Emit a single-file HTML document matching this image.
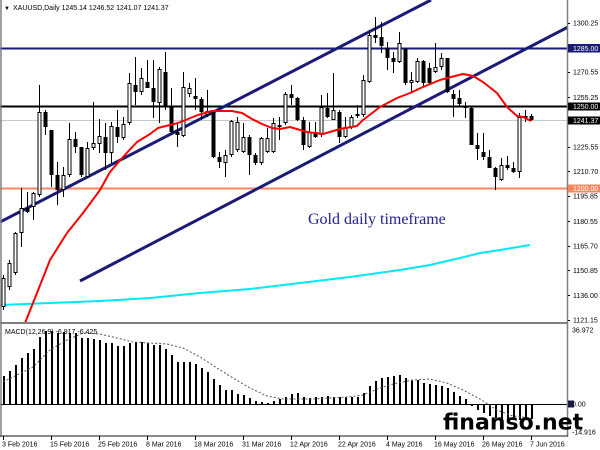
<!DOCTYPE html>
<html>
<head>
<meta charset="utf-8">
<style>
html,body{margin:0;padding:0;background:#fff;}
svg{display:block;}
text{font-family:"Liberation Sans",Arial,sans-serif;}
</style>
</head>
<body>
<svg width="600" height="450" viewBox="0 0 600 450" xmlns="http://www.w3.org/2000/svg">
<defs>
<clipPath id="cm"><rect x="0" y="0" width="567" height="322"/></clipPath>
<clipPath id="cd"><rect x="0" y="324" width="567" height="112"/></clipPath>
</defs>
<rect x="0" y="0" width="600" height="450" fill="#fff"/>

<g clip-path="url(#cm)">
<!-- horizontal levels -->
<line x1="0" y1="48.5" x2="568" y2="48.5" stroke="#1a1a78" stroke-width="2"/>
<line x1="0" y1="106.5" x2="568" y2="106.5" stroke="#000" stroke-width="2"/>
<line x1="0" y1="120.5" x2="568" y2="120.5" stroke="#c8c8c8" stroke-width="1"/>
<line x1="0" y1="188.5" x2="568" y2="188.5" stroke="#f7875f" stroke-width="2"/>

<!-- cyan MA -->
<polyline fill="none" stroke="#00e8f8" stroke-width="2" points="0,305 50,303 100,301 150,298 200,293 250,289 300,283 350,277 400,270 430,265 460,258 480,253 500,250 530,245"/>

<!-- channel lines -->
<line x1="0" y1="222" x2="431" y2="0" stroke="#1a1a78" stroke-width="3"/>
<line x1="80" y1="281" x2="568" y2="27" stroke="#1a1a78" stroke-width="3"/>

<!-- wicks -->
<path fill="none" stroke="#000" stroke-width="1" d="M3.5 275V310 M9.5 260V290 M15.5 232V275 M21.5 188V247 M27.5 192V213 M33.5 192V220 M39.5 85V197 M45.5 110V135 M51.5 130V187 M57.5 162V205 M63.5 167V197 M69.5 123V177 M75.5 132V153 M81.5 147V177 M87.5 142V178 M93.5 102V150 M99.5 119V153 M105.5 123V170 M111.5 122V163 M117.5 110V143 M123.5 117V140 M129.5 73V125 M135.5 57V105 M141.5 68V95 M147.5 60V88 M153.5 60V118 M159.5 67V123 M165.5 52V110 M171.5 88V133 M177.5 122V147 M183.5 72V137 M189.5 83V97 M195.5 78V110 M201.5 97V120 M207.5 90V117 M213.5 110V158 M219.5 152V168 M225.5 150V177 M231.5 120V157 M237.5 117V152 M243.5 123V153 M249.5 135V175 M255.5 153V165 M261.5 137V165 M267.5 128V153 M273.5 118V153 M279.5 117V140 M285.5 92V125 M291.5 85V105 M297.5 97V121 M303.5 117V150 M309.5 122V148 M315.5 122V138 M321.5 95V137 M327.5 93V118 M333.5 73V120 M339.5 110V143 M345.5 117V138 M351.5 115V129 M357.5 105V118 M363.5 75V117 M369.5 30V83 M375.5 17V43 M381.5 22V53 M387.5 42V70 M393.5 52V73 M399.5 32V63 M405.5 48V85 M411.5 72V92 M417.5 58V83 M423.5 60V87 M429.5 63V85 M435.5 43V73 M441.5 53V70 M447.5 58V93 M453.5 90V117 M459.5 90V106 M465.5 102V118 M471.5 107V145 M477.5 133V160 M483.5 133V160 M489.5 150V168 M495.5 167V190 M501.5 158V181 M507.5 156V170 M513.5 162V173 M519.5 113V178 M525.5 110V122 M531.5 114V121"/>

<!-- bear bodies -->
<g fill="#000">
<rect x="25.5" y="208" width="4" height="4"/>
<rect x="43.5" y="112" width="4" height="15"/>
<rect x="49.5" y="130" width="4" height="45"/>
<rect x="55.5" y="175" width="4" height="15"/>
<rect x="73.5" y="139" width="4" height="8"/>
<rect x="79.5" y="147" width="4" height="28"/>
<rect x="103.5" y="137" width="4" height="16"/>
<rect x="115.5" y="127" width="4" height="10"/>
<rect x="133.5" y="85" width="4" height="7"/>
<rect x="145.5" y="82" width="4" height="6"/>
<rect x="151.5" y="88" width="4" height="14"/>
<rect x="163.5" y="72" width="4" height="35"/>
<rect x="169.5" y="107" width="4" height="25"/>
<rect x="175.5" y="132" width="4" height="3"/>
<rect x="193.5" y="96" width="4" height="3"/>
<rect x="199.5" y="99" width="4" height="13"/>
<rect x="211.5" y="112" width="4" height="45"/>
<rect x="217.5" y="157" width="4" height="5"/>
<rect x="247.5" y="137" width="4" height="18"/>
<rect x="253.5" y="155" width="4" height="8"/>
<rect x="277.5" y="125" width="4" height="2"/>
<rect x="289.5" y="94" width="4" height="4"/>
<rect x="295.5" y="98" width="4" height="22"/>
<rect x="301.5" y="120" width="4" height="25"/>
<rect x="313.5" y="132" width="4" height="5"/>
<rect x="325.5" y="108" width="4" height="9"/>
<rect x="337.5" y="112" width="4" height="25"/>
<rect x="373.5" y="35" width="4" height="3"/>
<rect x="379.5" y="37" width="4" height="9"/>
<rect x="385.5" y="48" width="4" height="10"/>
<rect x="391.5" y="58" width="4" height="4"/>
<rect x="403.5" y="49" width="4" height="34"/>
<rect x="421.5" y="61" width="4" height="22"/>
<rect x="427.5" y="68" width="4" height="15"/>
<rect x="445.5" y="58" width="4" height="34"/>
<rect x="451.5" y="94" width="4" height="5"/>
<rect x="457.5" y="98" width="4" height="6"/>
<rect x="463.5" y="106" width="4" height="2"/>
<rect x="469.5" y="108" width="4" height="37"/>
<rect x="475.5" y="145" width="4" height="4"/>
<rect x="481.5" y="152" width="4" height="5"/>
<rect x="487.5" y="157" width="4" height="11"/>
<rect x="493.5" y="168" width="4" height="9"/>
<rect x="505.5" y="165" width="4" height="3"/>
<rect x="511.5" y="168" width="4" height="4"/>
<rect x="529.5" y="116" width="4" height="4"/>
</g>

<!-- bull bodies -->
<g fill="#fff" stroke="#000" stroke-width="1">
<rect x="2" y="278.5" width="3" height="28"/>
<rect x="8" y="263.5" width="3" height="23"/>
<rect x="14" y="233.5" width="3" height="39"/>
<rect x="20" y="208.5" width="3" height="24"/>
<rect x="32" y="193.5" width="3" height="13"/>
<rect x="38" y="112.5" width="3" height="82"/>
<rect x="62" y="175.5" width="3" height="14"/>
<rect x="68" y="139.5" width="3" height="35"/>
<rect x="86" y="148.5" width="3" height="28"/>
<rect x="92" y="143.5" width="3" height="4"/>
<rect x="98" y="136.5" width="3" height="7"/>
<rect x="110" y="126.5" width="3" height="26"/>
<rect x="122" y="124.5" width="3" height="13"/>
<rect x="128" y="83.5" width="3" height="39"/>
<rect x="140" y="78.5" width="3" height="13"/>
<rect x="158" y="69.5" width="3" height="33"/>
<rect x="182" y="87.5" width="3" height="48"/>
<rect x="188" y="88.5" width="3" height="5"/>
<rect x="206" y="111.5" width="3" height="3"/>
<rect x="224" y="155.5" width="3" height="7"/>
<rect x="230" y="121.5" width="3" height="33"/>
<rect x="236" y="122.5" width="3" height="27"/>
<rect x="242" y="137.5" width="3" height="14"/>
<rect x="260" y="138.5" width="3" height="24"/>
<rect x="266" y="138.5" width="3" height="13"/>
<rect x="272" y="123.5" width="3" height="28"/>
<rect x="284" y="94.5" width="3" height="28"/>
<rect x="308" y="132.5" width="3" height="14"/>
<rect x="320" y="107.5" width="3" height="27"/>
<rect x="332" y="110.5" width="3" height="9"/>
<rect x="344" y="127.5" width="3" height="9"/>
<rect x="350" y="117.5" width="3" height="9"/>
<rect x="356" y="114.5" width="3" height="1"/>
<rect x="362" y="80.5" width="3" height="34"/>
<rect x="368" y="35.5" width="3" height="46"/>
<rect x="398" y="43.5" width="3" height="18"/>
<rect x="410" y="80.5" width="3" height="2"/>
<rect x="416" y="61.5" width="3" height="20"/>
<rect x="434" y="67.5" width="3" height="4"/>
<rect x="440" y="58.5" width="3" height="8"/>
<rect x="500" y="165.5" width="3" height="14"/>
<rect x="518" y="117.5" width="3" height="54"/>
<rect x="524" y="116.5" width="3" height="1"/>
</g>

<!-- red MA -->
<polyline fill="none" stroke="#ff0000" stroke-width="2" stroke-linejoin="round" points="25,323 37,293 50,260 67,233 83,213 100,190 110,172 123,157 137,142 150,134 158,128 178,123 198,115 212,111 232,111 242,113 252,119 262,124 272,128 280,129 290,127 307,132 323,134 340,129 357,126 363,120 380,107 397,98 410,93 423,87 440,80 447,78 463,74 473,76 483,82 497,93 507,107 517,116 523,117 531,121"/>

<text x="308" y="224" font-family="'Liberation Serif',serif" font-size="16" fill="#23238e" style="font-family:'Liberation Serif',serif">Gold daily timeframe</text>
</g>

<!-- header -->
<text x="4" y="10" font-size="6" fill="#000">▼</text>
<text x="13" y="10" font-size="7" fill="#000">XAUUSD,Daily  1245.14 1246.52 1241.07 1241.37</text>

<!-- MACD panel -->
<g clip-path="url(#cd)">
<line x1="0" y1="404.5" x2="568" y2="404.5" stroke="#000" stroke-width="1"/>
<path fill="none" stroke="#000" stroke-width="2" d="M4 404V376 M10 404V371 M16 404V365 M22 404V358 M28 404V353 M34 404V349 M40 404V337 M46 404V331 M52 404V331 M58 404V333 M64 404V332 M70 404V333 M76 404V333 M82 404V338 M88 404V338 M94 404V339 M100 404V340 M106 404V343 M112 404V343 M118 404V346 M124 404V346 M130 404V343 M136 404V342 M142 404V342 M148 404V343 M154 404V345 M160 404V345 M166 404V349 M172 404V355 M178 404V362 M184 404V362 M190 404V362 M196 404V364 M202 404V368 M208 404V372 M214 404V379 M220 404V385 M226 404V390 M232 404V390 M238 404V394 M244 404V395 M250 404V398 M256 404V401 M262 404V402 M268 404V403 M274 404V401 M280 404V399 M286 404V397 M292 404V394 M298 404V393 M304 404V397 M310 404V398 M316 404V397 M322 404V397 M328 404V396 M334 404V397 M340 404V397 M346 404V397 M352 404V397 M358 404V397 M364 404V393 M370 404V386 M376 404V381 M382 404V378 M388 404V377 M394 404V376 M400 404V375 M406 404V378 M412 404V380 M418 404V380 M424 404V383 M430 404V384 M436 404V385 M442 404V386 M448 404V388 M454 404V392 M460 404V396 M466 404V399 M472 404V406 M478 404V410 M484 404V413 M490 404V416 M496 404V418 M502 404V419 M508 404V420 M514 404V420 M520 404V420 M526 404V419 M532 404V419"/>
<polyline fill="none" stroke="#555" stroke-width="1" stroke-dasharray="2,2" points="3,382 33,367 50,350 67,340 83,333 100,334 117,338 133,342 150,343 167,344 183,348 200,357 217,368 233,378 250,388 267,396 283,399 300,399 313,399 347,397 363,395 380,388 397,383 413,380 430,379 447,383 463,390 480,399 497,410 513,416 531,418"/>
</g>
<text x="5" y="334" font-size="7" fill="#000">MACD(12,26,9) -6.917 -6.425</text>

<!-- frame lines -->
<line x1="1" y1="0" x2="1" y2="437" stroke="#808080" stroke-width="1.5"/>
<line x1="0" y1="323" x2="568" y2="323" stroke="#808080" stroke-width="2"/>
<line x1="567.5" y1="0" x2="567.5" y2="437" stroke="#7f7f7f" stroke-width="1.5"/>
<line x1="0" y1="436" x2="568" y2="436" stroke="#606060" stroke-width="1.5"/>

<!-- right axis ticks -->
<path stroke="#000" stroke-width="1" fill="none" d="M568 23.5h2 M568 72.5h2 M568 97.5h2 M568 147.5h2 M568 171.5h2 M568 196.5h2 M568 221.5h2 M568 246.5h2 M568 270.5h2 M568 295.5h2 M568 320.5h2"/>

<!-- price labels -->
<g font-size="7" fill="#000">
<text x="573" y="25.5">1300.25</text>
<text x="573" y="74.7">1270.55</text>
<text x="573" y="100">1255.25</text>
<text x="573" y="149.4">1225.55</text>
<text x="573" y="174">1210.70</text>
<text x="573" y="198.7">1195.85</text>
<text x="573" y="224">1180.55</text>
<text x="573" y="248.6">1165.70</text>
<text x="573" y="273.2">1150.85</text>
<text x="573" y="297.8">1136.00</text>
<text x="573" y="322.5">1121.15</text>
<text x="572" y="332.5">36.972</text>
<text x="572" y="406.5">0.00</text>
<text x="572" y="434.5">-14.916</text>
</g>

<!-- label boxes -->
<rect x="568" y="44" width="32" height="8.5" fill="#1a1a78"/>
<text x="573" y="51" font-size="7" fill="#fff">1285.00</text>
<rect x="568" y="102.5" width="32" height="8" fill="#000"/>
<text x="573" y="109" font-size="7" fill="#fff">1250.00</text>
<rect x="568" y="116.5" width="32" height="8" fill="#000"/>
<text x="573" y="123" font-size="7" fill="#fff">1241.37</text>
<rect x="568" y="184.5" width="32" height="8" fill="#f7875f"/>
<text x="573" y="191" font-size="7" fill="#fff">1200.00</text>
<rect x="568" y="400.5" width="6" height="7" fill="#1a1a40"/>

<!-- date ticks -->
<path stroke="#000" stroke-width="1" fill="none" d="M3.5 436V440 M51.5 436V440 M99.5 436V440 M147.5 436V440 M195.5 436V440 M243.5 436V440 M291.5 436V440 M339.5 436V440 M387.5 436V440 M435.5 436V440 M483.5 436V440 M531.5 436V440"/>

<!-- date labels -->
<g font-size="7" fill="#000">
<text x="2" y="446.5">3 Feb 2016</text>
<text x="50" y="446.5">15 Feb 2016</text>
<text x="98" y="446.5">25 Feb 2016</text>
<text x="146" y="446.5">8 Mar 2016</text>
<text x="194" y="446.5">18 Mar 2016</text>
<text x="242" y="446.5">31 Mar 2016</text>
<text x="290" y="446.5">12 Apr 2016</text>
<text x="338" y="446.5">22 Apr 2016</text>
<text x="386" y="446.5">4 May 2016</text>
<text x="434" y="446.5">16 May 2016</text>
<text x="482" y="446.5">26 May 2016</text>
<text x="530" y="446.5">7 Jun 2016</text>
</g>

<!-- watermark -->
<text x="443" y="429.5" font-size="22" font-weight="bold" fill="#000" style="font-family:'DejaVu Sans','Liberation Sans',sans-serif">finanso.net</text>
</svg>
</body>
</html>
